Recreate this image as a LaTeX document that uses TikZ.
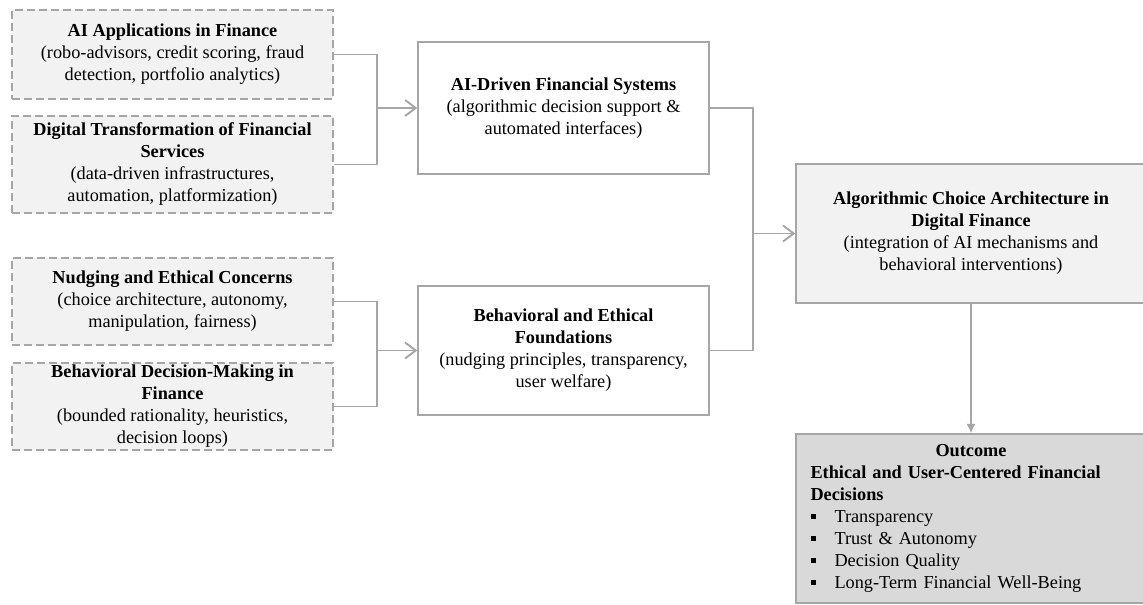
\documentclass[tikz,border=0pt]{standalone}
\usepackage{fontspec}
\setmainfont{Liberation Serif}
\usetikzlibrary{arrows.meta}
\definecolor{edgegray}{HTML}{A6A6A6}
\definecolor{lightfill}{HTML}{F2F2F2}
\definecolor{darkfill}{HTML}{D9D9D9}
\newcommand{\sqbul}{\makebox[18pt][l]{\raisebox{2.6pt}{\rule{4pt}{4pt}}}}
\begin{document}
\begin{tikzpicture}[x=0.75pt,y=-0.75pt,
  font=\fontsize{13.7}{16.5}\selectfont,
  srcbox/.style={draw=edgegray, dash pattern=on 6pt off 3pt, fill=lightfill, line width=0.8pt,
    align=center, inner sep=0pt, minimum width=240.75pt},
  midbox/.style={draw=edgegray, fill=white, line width=1.1pt, align=center, inner sep=0pt,
    minimum width=218.25pt},
  conn/.style={draw=edgegray, line width=1.4pt},
  openarrow/.style={-{Straight Barb[length=8pt,width=12pt,line width=1.4pt]}},
  downarrow/.style={-{Latex[length=7pt,width=7pt]}}
]
\useasboundingbox (0,0) rectangle (1143,605);

% source boxes
\node[srcbox, minimum height=66.75pt] (b1) at (172.5,54.5)
  {\textbf{AI Applications in Finance}\\(robo-advisors, credit scoring, fraud\\detection, portfolio analytics)};
\node[srcbox, minimum height=72.75pt] (b2) at (172.5,164.5)
  {\textbf{Digital Transformation of Financial}\\\textbf{Services}\\(data-driven infrastructures,\\automation, platformization)};
\node[srcbox, minimum height=65.25pt] (b3) at (172.5,301.5)
  {\textbf{Nudging and Ethical Concerns}\\(choice architecture, autonomy,\\manipulation, fairness)};
\node[srcbox, minimum height=65.25pt] (b4) at (172.5,406.5)
  {\textbf{Behavioral Decision-Making in}\\\textbf{Finance}\\(bounded rationality, heuristics,\\decision loops)};

% middle boxes
\node[midbox, minimum height=99pt] (m1) at (563.5,108)
  {\textbf{AI-Driven Financial Systems}\\(algorithmic decision support \&\\automated interfaces)};
\node[midbox, minimum height=96.75pt] (m2) at (563.5,350.5)
  {\textbf{Behavioral and Ethical}\\\textbf{Foundations}\\(nudging principles, transparency,\\user welfare)};

% right boxes
\node[draw=edgegray, fill=lightfill, line width=1.1pt, align=center, inner sep=0pt,
  minimum width=262.5pt, minimum height=104.25pt] (alg) at (971,233.5)
  {\textbf{Algorithmic Choice Architecture in}\\\textbf{Digital Finance}\\(integration of AI mechanisms and\\behavioral interventions)};
\node[draw=edgegray, fill=darkfill, line width=1.1pt, align=left, inner ysep=0pt, inner xsep=10.875pt,
  text width=240.75pt, minimum height=126.75pt] (out) at (971,518.5)
  {\makebox[\linewidth]{\textbf{Outcome}}\\
   \textbf{Ethical and User-Centered Financial}\\
   \textbf{Decisions}\\
   \sqbul Transparency\\
   \sqbul Trust \& Autonomy\\
   \sqbul Decision Quality\\
   \sqbul Long-Term Financial Well-Being};

% junctions
\coordinate (j1) at (377,108);
\coordinate (j2) at (377,350.5);
\coordinate (j3) at (753,233.5);

% connectors
\draw[conn] (b1.east) -| (j1) |- (b2.east);
\draw[conn, openarrow] (j1) -- (j1 -| m1.west);
\draw[conn] (b3.east) -| (j2) |- (b4.east);
\draw[conn, openarrow] (j2) -- (j2 -| m2.west);
\draw[conn] (m1.east) -| (j3) |- (m2.east);
\draw[conn, openarrow] (j3) -- (j3 -| alg.west);
\draw[conn, downarrow] (alg.south) -- (out.north);
\end{tikzpicture}
\end{document}
